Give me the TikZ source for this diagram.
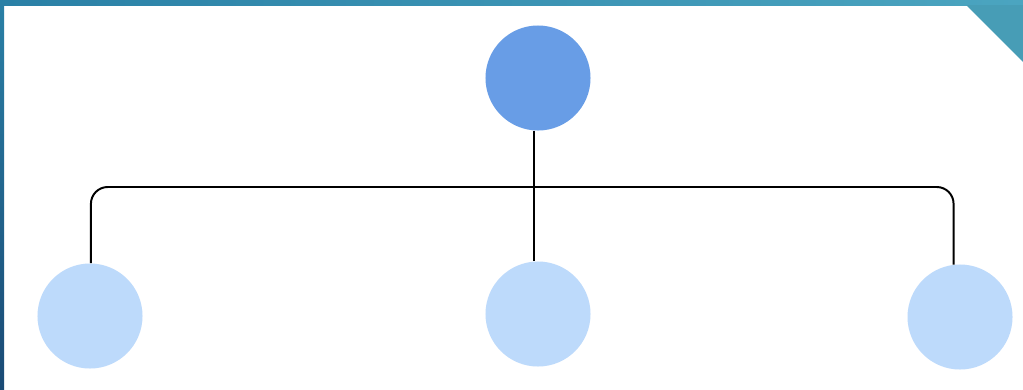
\documentclass[tikz,border=0pt]{standalone}
\usepackage{tikz}
\usetikzlibrary{calc}

\definecolor{frametop}{HTML}{2A80A6}
\definecolor{frameright}{HTML}{4BA5C0}
\definecolor{framelow}{HTML}{1A4A75}
\definecolor{rootblue}{HTML}{689DE6}
\definecolor{leafblue}{HTML}{BDDAFB}

\begin{document}
\begin{tikzpicture}[
    x=0.025cm, y=-0.025cm,
    rootnode/.style={circle, fill=rootblue, inner sep=0pt, minimum size=2.625cm},
    leafnode/.style={circle, fill=leafblue, inner sep=0pt, minimum size=2.625cm},
    link/.style={line width=1.4pt, black}
]

% Frame
\useasboundingbox (0,0) rectangle (1023,389);
\fill[white] (0,0) rectangle (1023,389);
\shade[left color=frametop, right color=frameright] (0,0) rectangle (1023,5);
\shade[top color=frametop, bottom color=framelow] (0,0) rectangle (4,389);
\fill[frameright!95!black] (966,5) -- (1023,5) -- (1023,62) -- cycle;

% Nodes
\node[rootnode] (root) at (538,78) {};
\node[leafnode] (left) at (90,316) {};
\node[leafnode] (mid) at (538,314) {};
\node[leafnode] (right) at (960,317) {};
\coordinate (bar) at (538,187);

% Links
\draw[link, rounded corners=0.42cm] (left.89) -- (left.89 |- bar) -- (right.97 |- bar) -- (right.97);
\draw[link] (root.266) -- (mid.94);

\end{tikzpicture}
\end{document}
